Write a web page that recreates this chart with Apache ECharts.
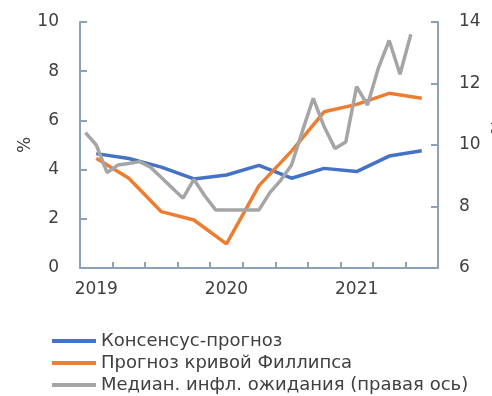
<!DOCTYPE html>
<html>
<head>
<meta charset="utf-8">
<script src="https://cdn.jsdelivr.net/npm/echarts@6/dist/echarts.min.js"></script>
<style>
  html, body { margin: 0; padding: 0; background: #ffffff; }
  #chart { width: 492px; height: 396px; }
</style>
</head>
<body>
<div id="chart"></div>
<script>
// Monthly axis, Jan 2019 .. Sep 2021
const months = [
  '2019-01','2019-02','2019-03','2019-04','2019-05','2019-06','2019-07','2019-08','2019-09','2019-10','2019-11','2019-12',
  '2020-01','2020-02','2020-03','2020-04','2020-05','2020-06','2020-07','2020-08','2020-09','2020-10','2020-11','2020-12',
  '2021-01','2021-02','2021-03','2021-04','2021-05','2021-06','2021-07','2021-08','2021-09'
];

// Quarterly forecasts (placed at the middle month of each quarter), %
const quarterMonths = ['2019-02','2019-05','2019-08','2019-11','2020-02','2020-05','2020-08','2020-11','2021-02','2021-05','2021-08'];
const consensus = [4.65, 4.45, 4.1, 3.62, 3.78, 4.17, 3.65, 4.05, 3.92, 4.55, 4.77];
const phillips  = [4.46, 3.65, 2.29, 1.95, 0.98, 3.35, 4.75, 6.35, 6.65, 7.1, 6.9];

// Monthly median inflation expectations (right axis), %
const expectations = [
  10.4, 10.0, 9.1, 9.35, 9.4, 9.46, 9.28, 8.94, 8.6, 8.27, 8.88, 8.35,
  7.89, 7.89, 7.89, 7.89, 7.89, 8.45, 8.85, 9.35, 10.45, 11.52, 10.6, 9.89,
  10.1, 11.9, 11.3, 12.5, 13.4, 12.3, 13.6
];

const seriesNames = ['Консенсус-прогноз', 'Прогноз кривой Филлипса', 'Медиан. инфл. ожидания (правая ось)'];
const leftTicks = { min: 0, max: 10, step: 2 };
const rightTicks = { min: 6, max: 14, step: 2 };

const toPairs = (vals) => vals.map((v, k) => [months.indexOf(quarterMonths[k]), v]);

const axisColor = '#8aa2b8';
const textColor = '#404040';
const font = '"DejaVu Sans", sans-serif';

const chart = echarts.init(document.getElementById('chart'), null, { renderer: 'canvas' });
chart.setOption({
  animation: false,
  backgroundColor: '#ffffff',
  textStyle: { fontFamily: font },
  grid: { left: 80, right: 54, top: 22, bottom: 128, containLabel: false, outerBoundsMode: 'none' },
  legend: {
    orient: 'vertical',
    left: 47,
    top: 327,
    height: 120,
    itemWidth: 44,
    itemHeight: 4,
    itemGap: 4,
    icon: 'rect',
    data: seriesNames,
    textStyle: { fontSize: 18, color: textColor, fontFamily: font, lineHeight: 18 }
  },
  xAxis: {
    type: 'category',
    data: months,
    boundaryGap: true,
    axisLine: { show: true, lineStyle: { color: axisColor, width: 2 } },
    axisTick: { show: true, inside: true, length: 6, interval: 2, lineStyle: { color: axisColor, width: 2 } },
    axisLabel: {
      interval: (i) => i % 12 === 1,
      formatter: (v) => v.slice(0, 4),
      fontSize: 17, color: textColor, margin: 13, fontFamily: font
    },
    splitLine: { show: false }
  },
  yAxis: [
    {
      type: 'value',
      min: leftTicks.min, max: leftTicks.max, interval: leftTicks.step,
      name: '%', nameLocation: 'middle', nameGap: 46, nameRotate: 90, nameMoveOverlap: false,
      nameTextStyle: { fontSize: 17, color: textColor, fontFamily: font },
      axisLine: { show: true, lineStyle: { color: axisColor, width: 2 } },
      axisTick: { show: true, inside: true, length: 7, lineStyle: { color: axisColor, width: 2 } },
      axisLabel: { fontSize: 17, color: textColor, margin: 21, fontFamily: font },
      splitLine: { show: false }
    },
    {
      type: 'value',
      position: 'right',
      min: rightTicks.min, max: rightTicks.max, interval: rightTicks.step,
      name: '%', nameLocation: 'middle', nameGap: 41, nameRotate: 90,
      nameTextStyle: { fontSize: 17, color: textColor, fontFamily: font, align: 'left', padding: [0, 0, 0, 10] },
      axisLine: { show: true, lineStyle: { color: axisColor, width: 2 } },
      axisTick: { show: true, inside: true, length: 7, lineStyle: { color: axisColor, width: 2 } },
      axisLabel: { fontSize: 17, color: textColor, margin: 21, fontFamily: font },
      splitLine: { show: false }
    }
  ],
  series: [
    {
      name: seriesNames[0], type: 'line', yAxisIndex: 0,
      data: toPairs(consensus),
      showSymbol: false, symbol: 'none',
      lineStyle: { color: '#4472c4', width: 3.5 }, itemStyle: { color: '#4472c4' }
    },
    {
      name: seriesNames[1], type: 'line', yAxisIndex: 0,
      data: toPairs(phillips),
      showSymbol: false, symbol: 'none',
      lineStyle: { color: '#ed7d31', width: 3.5 }, itemStyle: { color: '#ed7d31' }
    },
    {
      name: seriesNames[2], type: 'line', yAxisIndex: 1,
      data: expectations,
      showSymbol: false, symbol: 'none',
      lineStyle: { color: '#a5a5a5', width: 3.5 }, itemStyle: { color: '#a5a5a5' }
    }
  ]
});
</script>
</body>
</html>
